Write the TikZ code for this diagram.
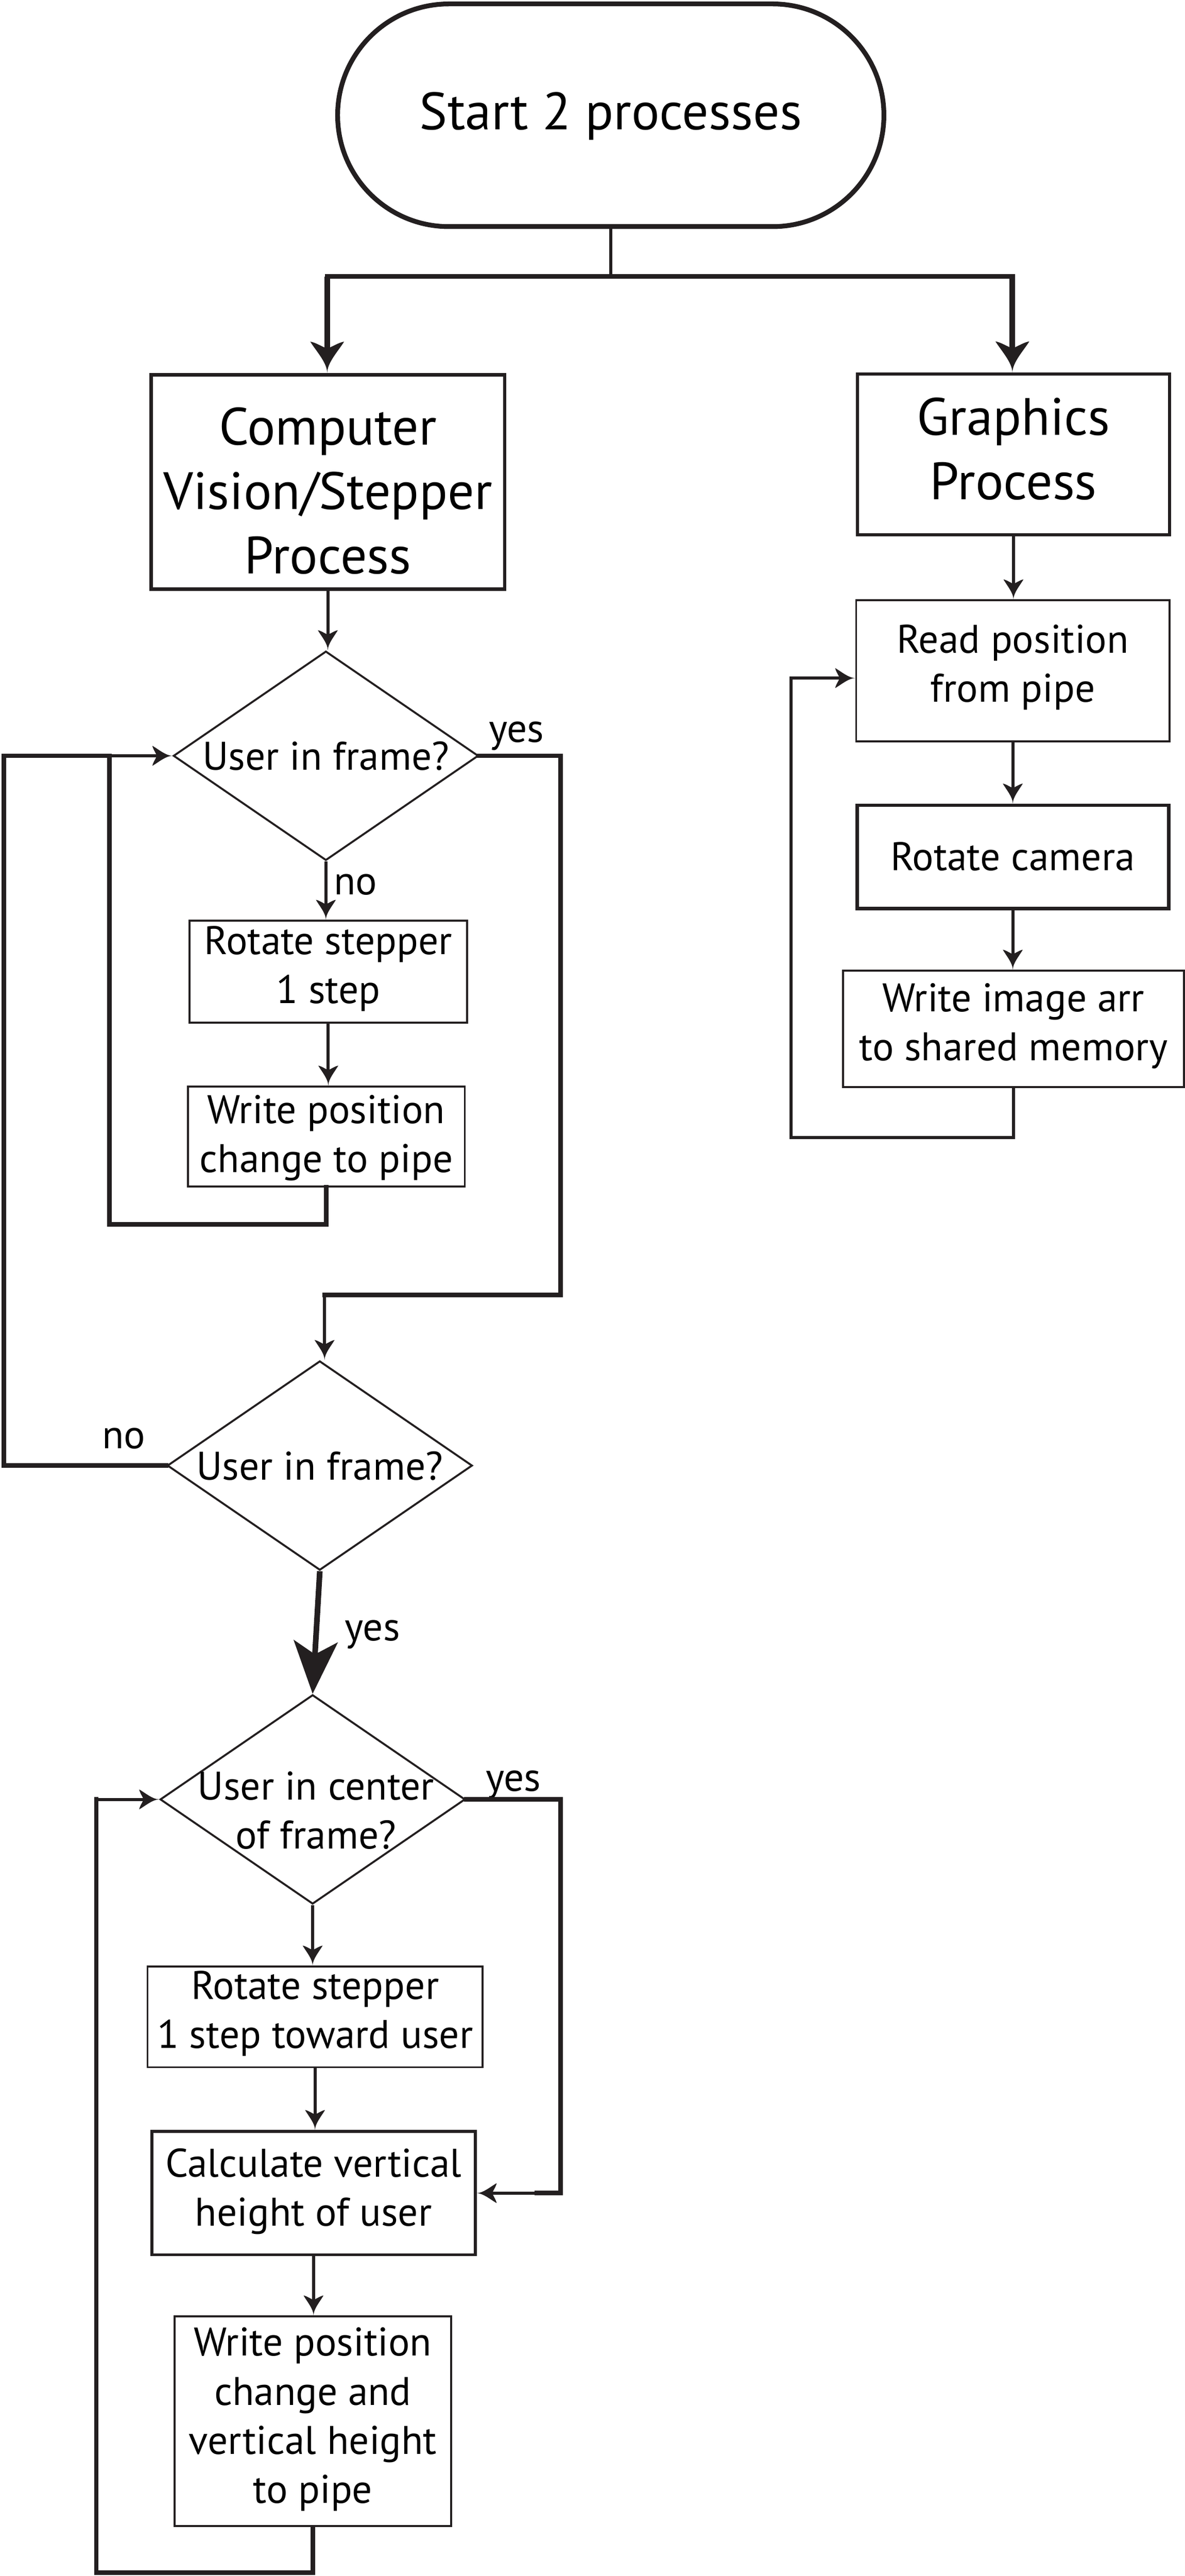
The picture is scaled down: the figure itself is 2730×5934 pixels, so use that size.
\documentclass[tikz,border=0pt]{standalone}
\usepackage{fontspec}
\setmainfont{PT Sans}
\usetikzlibrary{arrows.meta,shapes.geometric,shapes.misc,calc}
\definecolor{ink}{RGB}{35,31,32}
\newcommand\myS{\fontsize{9.2}{11.3}\selectfont}
\newcommand\myB{\fontsize{12.1}{14.8}\selectfont}
\pgfdeclarearrow{
  name = Curvy,
  parameters = {\the\pgfarrowlength,\the\pgfarrowwidth},
  setup code = {
    \pgfarrowssettipend{0pt}
    \pgfarrowssetlineend{-0.6\pgfarrowlength}
    \pgfarrowsupperhullpoint{-\pgfarrowlength}{0.5\pgfarrowwidth}
    \pgfarrowsupperhullpoint{0pt}{0pt}
    \pgfarrowssavethe\pgfarrowlength
    \pgfarrowssavethe\pgfarrowwidth
  },
  drawing code = {
    \pgfpathmoveto{\pgfpointorigin}
    \pgfpathcurveto{\pgfpoint{-0.33\pgfarrowlength}{0.005\pgfarrowwidth}}{\pgfpoint{-0.7\pgfarrowlength}{0.325\pgfarrowwidth}}{\pgfpoint{-\pgfarrowlength}{0.5\pgfarrowwidth}}
    \pgfpathcurveto{\pgfpoint{-0.98\pgfarrowlength}{0.35\pgfarrowwidth}}{\pgfpoint{-0.82\pgfarrowlength}{0.125\pgfarrowwidth}}{\pgfpoint{-0.78\pgfarrowlength}{0pt}}
    \pgfpathcurveto{\pgfpoint{-0.82\pgfarrowlength}{-0.125\pgfarrowwidth}}{\pgfpoint{-0.98\pgfarrowlength}{-0.35\pgfarrowwidth}}{\pgfpoint{-\pgfarrowlength}{-0.5\pgfarrowwidth}}
    \pgfpathcurveto{\pgfpoint{-0.7\pgfarrowlength}{-0.325\pgfarrowwidth}}{\pgfpoint{-0.33\pgfarrowlength}{-0.005\pgfarrowwidth}}{\pgfpointorigin}
    \pgfpathclose
    \pgfusepathqfill
  },
  defaults = {length = 5pt, width = 5pt}
}
\begin{document}
\begin{tikzpicture}[x=0.1pt,y=-0.1pt,
  box/.style={draw=ink, rectangle, inner sep=0pt, align=center, text depth=0pt, font=\myS, line width=0.45pt},
  dia/.style={draw=ink, diamond, inner sep=0pt, text depth=0pt, font=\myS, line width=0.45pt, minimum width=70.3pt, minimum height=48.2pt},
  lbl/.style={anchor=base, inner sep=0pt, font=\myS},
  ln/.style={draw=ink, line width=0.7pt},
  tk/.style={draw=ink, line width=1.05pt, line cap=rect},
  arr/.style={-{Curvy[length=4.6pt,width=4.6pt]}},
  bigarr/.style={-{Curvy[length=7.2pt,width=7.8pt]}}
]
\useasboundingbox (0,0) rectangle (2730,5934);

% ---------- nodes ----------
\node[draw=ink, rounded rectangle, line width=1.1pt, minimum width=125.9pt, minimum height=51.3pt,
      inner sep=0pt, font=\myB, text height=6.7pt, text depth=0pt] (start) at (1407.5,265.5) {Start 2 processes};

\node[box, font=\myB, line width=0.8pt, minimum width=81.5pt, minimum height=49.4pt, text height=42.2pt]
  (cv) at (755.5,1110) {\begin{tabular}[b]{@{}c@{}}Computer\\Vision/Stepper\\Process\end{tabular}};
\node[box, font=\myB, line width=0.7pt, minimum width=71.9pt, minimum height=37pt, text height=20.6pt]
  (gp) at (2335.5,1047) {\begin{tabular}[b]{@{}c@{}}Graphics\\Process\end{tabular}};

\node[box, minimum width=72.2pt, minimum height=32.5pt, text height=14.3pt]
  (rd) at (2334,1545.5) {\begin{tabular}[b]{@{}c@{}}Read position\\from pipe\end{tabular}};
\node[box, line width=0.8pt, minimum width=71.8pt, minimum height=23.8pt, text height=6.2pt]
  (rc) at (2334,1974) {Rotate camera};
\node[box, minimum width=78.5pt, minimum height=26.8pt, text height=14.6pt]
  (wi) at (2335.5,2370) {\begin{tabular}[b]{@{}c@{}}Write image arr\\to shared memory\end{tabular}};

\node[dia, text height=6.6pt] (d1) at (751,1741) {\makebox[0pt]{User in frame?}};
\node[box, minimum width=63.9pt, minimum height=23.5pt, text height=14.5pt]
  (rs1) at (756.5,2238.5) {\begin{tabular}[b]{@{}c@{}}Rotate stepper\\1 step\end{tabular}};
\node[box, minimum width=63.8pt, minimum height=23pt, text height=16.6pt]
  (wp1) at (752,2618) {\begin{tabular}[b]{@{}c@{}}Write position\\change to pipe\end{tabular}};

\node[dia, text height=6.6pt] (d2) at (737,3376) {\makebox[0pt]{User in frame?}};
\node[dia, text height=22.8pt] (d3) at (720.5,4145) {\makebox[0pt]{\hspace*{1.5pt}\begin{tabular}[b]{@{}c@{}}User in center\\of frame?\end{tabular}}};

\node[box, minimum width=77.2pt, minimum height=23.2pt, text height=14.4pt]
  (rs2) at (726,4646) {\begin{tabular}[b]{@{}c@{}}Rotate stepper\\1 step toward user\end{tabular}};
\node[box, line width=0.7pt, minimum width=74.5pt, minimum height=28.4pt, text height=15.2pt]
  (calc) at (722.5,5052) {\begin{tabular}[b]{@{}c@{}}Calculate vertical\\height of user\end{tabular}};
\node[box, minimum width=63.8pt, minimum height=48.3pt, text height=37.7pt]
  (wp2) at (721,5577.5) {\begin{tabular}[b]{@{}c@{}}Write position\\change and\\vertical height\\to pipe\end{tabular}};

% labels
\node[lbl] (yes1) at (1190,1709) {yes};
\node[lbl] (no1) at (819,2061) {no};
\node[lbl] (no2) at (285,3337) {no};
\node[lbl] (yes2) at (858,3779) {yes};
\node[lbl] (yes3) at (1183,4126) {yes};

% ---------- coordinates ----------
\coordinate (barM) at (1407.5,637);
\coordinate (barL) at (754,637);
\coordinate (barR) at (2333,637);
\coordinate (g1) at (2336,2620);
\coordinate (g2) at (1823,2620);
\coordinate (g3) at (1823,1562);
\coordinate (i1) at (757,2820);
\coordinate (i2) at (252,2820);
\coordinate (i3) at (252,1741);
\coordinate (o1) at (9,3376);
\coordinate (o2) at (9,1741);
\coordinate (p1) at (1292,1741);
\coordinate (p2) at (1292,2983);
\coordinate (p3) at (748,2983);
\coordinate (q1) at (1292,4145);
\coordinate (q2) at (1292,5052);
\coordinate (q3) at (1237,5052);
\coordinate (b1) at (725,5926);
\coordinate (b2) at (222,5926);
\coordinate (b3) at (222,4145);

% ---------- connectors ----------
\draw[ink, line width=0.6pt] (start.south) -- (barM);
\draw[ink, line width=1.1pt] ([xshift=-0.5pt]barL) -- ([xshift=0.6pt]barR);
\draw[ink, line width=1.3pt, bigarr] (barL) -- (barL |- cv.north);
\draw[ink, line width=1.3pt, bigarr] (barR) -- (barR |- gp.north);

\draw[ln, arr] (gp.south) -- (gp.south |- rd.north);
\draw[ln, arr] (rd.south) -- (rd.south |- rc.north);
\draw[ln, arr] (rc.south) -- (rc.south |- wi.north);
\draw[ln, arr] (wi.south) -- (wi.south |- g1) -- (g2) -- (g3) -- (g3 -| rd.west);

\draw[ln, arr] (cv.south) -- (cv.south |- d1.north);
\draw[ln, arr] (d1.south) -- (d1.south |- rs1.north);
\draw[ln, arr] (rs1.south) -- (rs1.south |- wp1.north);
\draw[tk] (wp1.south) -- (wp1.south |- i1) -- (i2) -- (i3);
\draw[ln, arr] (i3) -- (d1.west);
\draw[tk] (d2.west) -- (o1) -- (o2) -- (i3);

\draw[tk] (d1.east) -- (p1) -- (p2) -- (p3);
\draw[ln, arr] (p3) -- (p3 |- d2.north);

\draw[ink, line width=1.3pt, -{Stealth[length=12.1pt,width=10.1pt,inset=3pt]}] (d2.south) -- (d3.north);

\draw[ln, arr] (d3.south) -- (d3.south |- rs2.north);
\draw[ln, arr] (rs2.south) -- (rs2.south |- calc.north);
\draw[ln, arr] (calc.south) -- (calc.south |- wp2.north);
\draw[tk] (d3.east) -- (q1) -- (q2) -- (q3);
\draw[ln, arr] (q3) -- (calc.east);
\draw[tk] (wp2.south) -- (wp2.south |- b1) -- (b2) -- (b3);
\draw[ln, arr] (b3) -- (d3.west);
\end{tikzpicture}
\end{document}
